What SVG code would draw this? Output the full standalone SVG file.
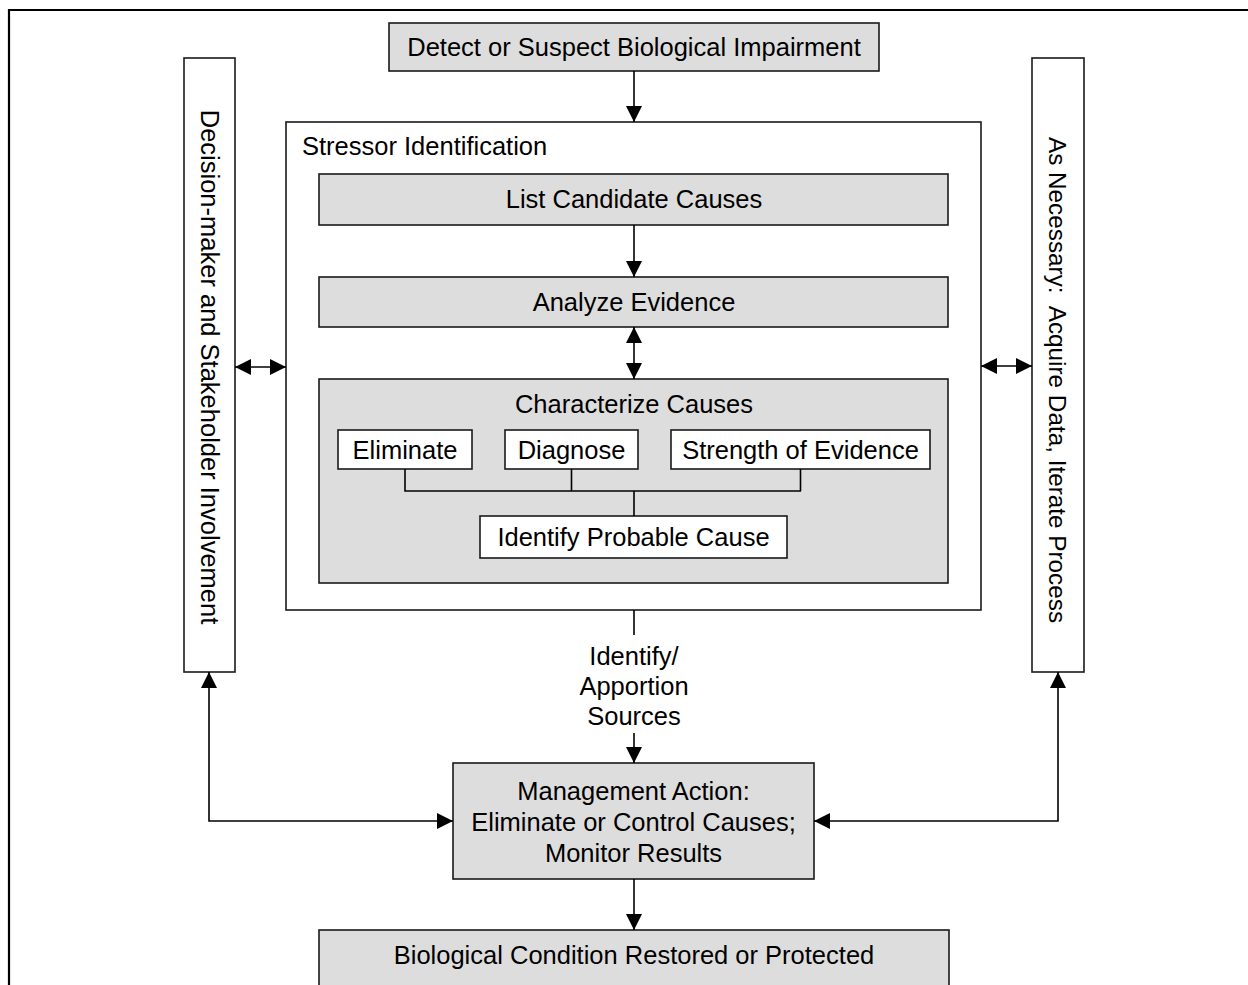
<svg xmlns="http://www.w3.org/2000/svg" width="1248" height="985" viewBox="0 0 1248 985">
<defs>
<style>
text{font-family:"Liberation Sans",Arial,sans-serif;font-size:25.5px;fill:#000}
.c{text-anchor:middle}
.g{fill:#dddddd;stroke:#1a1a1a;stroke-width:1.6}
.w{fill:#ffffff;stroke:#1a1a1a;stroke-width:1.6}
.ln{stroke:#000;stroke-width:1.6;fill:none}
</style>
<marker id="ah" viewBox="0 0 16 16" markerWidth="16" markerHeight="16" refX="16" refY="8" orient="auto-start-reverse" markerUnits="userSpaceOnUse">
<path d="M0,0 L16,8 L0,16 z" fill="#000"/>
</marker>
</defs>
<rect width="1248" height="985" fill="#fff"/>
<g id="frame">
<path d="M9,985 L9,10 L1248,10" fill="none" stroke="#000" stroke-width="2.2"/>
</g>
<g id="detect">
<rect class="g" x="389" y="23" width="490" height="48"/>
<text class="c" x="634" y="56">Detect or Suspect Biological Impairment</text>
</g>
<g id="decision">
<rect class="w" x="184" y="58" width="51" height="614"/>
<text class="c" transform="translate(209.5,367) rotate(90)" y="9">Decision-maker and Stakeholder Involvement</text>
</g>
<g id="acquire">
<rect class="w" x="1032" y="58" width="52" height="614"/>
<text class="c" transform="translate(1058,380) rotate(90)" y="9" style="font-size:24.3px" xml:space="preserve">As Necessary:  Acquire Data, Iterate Process</text>
</g>
<g id="stressor">
<rect class="w" x="286" y="122" width="695" height="488"/>
<text x="302" y="155">Stressor Identification</text>
</g>
<g id="list">
<rect class="g" x="319" y="174" width="629" height="51"/>
<text class="c" x="634" y="208">List Candidate Causes</text>
</g>
<g id="analyze">
<rect class="g" x="319" y="277" width="629" height="50"/>
<text class="c" x="634" y="311">Analyze Evidence</text>
</g>
<g id="characterize">
<rect class="g" x="319" y="379" width="629" height="204"/>
<text class="c" x="634" y="413">Characterize Causes</text>
</g>
<g id="eliminate">
<rect class="w" x="338" y="430" width="134" height="39"/>
<text class="c" x="405" y="459">Eliminate</text>
</g>
<g id="diagnose">
<rect class="w" x="505" y="430" width="133" height="39"/>
<text class="c" x="571.5" y="459">Diagnose</text>
</g>
<g id="strength">
<rect class="w" x="671" y="430" width="259" height="39"/>
<text class="c" x="800.5" y="459">Strength of Evidence</text>
</g>
<g id="probable">
<rect class="w" x="480" y="516" width="307" height="42"/>
<text class="c" x="633.5" y="546">Identify Probable Cause</text>
</g>
<g id="management">
<rect class="g" x="453" y="763" width="361" height="116"/>
<text class="c" x="633.5" y="800">Management Action:</text>
<text class="c" x="633.5" y="831">Eliminate or Control Causes;</text>
<text class="c" x="633.5" y="862">Monitor Results</text>
</g>
<g id="restored">
<rect class="g" x="319" y="930" width="630" height="70"/>
<text class="c" x="634" y="964">Biological Condition Restored or Protected</text>
</g>
<g id="connectors">
<line class="ln" x1="634" y1="71" x2="634" y2="122" marker-end="url(#ah)"/>
<line class="ln" x1="634" y1="225" x2="634" y2="277" marker-end="url(#ah)"/>
<line class="ln" x1="634" y1="327" x2="634" y2="379" marker-start="url(#ah)" marker-end="url(#ah)"/>
<line class="ln" x1="235" y1="367" x2="286" y2="367" marker-start="url(#ah)" marker-end="url(#ah)"/>
<line class="ln" x1="981" y1="366" x2="1032" y2="366" marker-start="url(#ah)" marker-end="url(#ah)"/>
<path class="ln" d="M405,469 V491 H801 M571.5,469 V491 M800.5,469 V491 M634,491 V516"/>
<line class="ln" x1="634" y1="610" x2="634" y2="635"/>
<text class="c" x="634" y="665">Identify/</text>
<text class="c" x="634" y="695">Apportion</text>
<text class="c" x="634" y="725">Sources</text>
<line class="ln" x1="634" y1="733" x2="634" y2="763" marker-end="url(#ah)"/>
<path class="ln" d="M209,672 V821 H453" marker-start="url(#ah)" marker-end="url(#ah)"/>
<path class="ln" d="M1058,672 V821 H814" marker-start="url(#ah)" marker-end="url(#ah)"/>
<line class="ln" x1="634" y1="879" x2="634" y2="930" marker-end="url(#ah)"/>
</g>
</svg>
